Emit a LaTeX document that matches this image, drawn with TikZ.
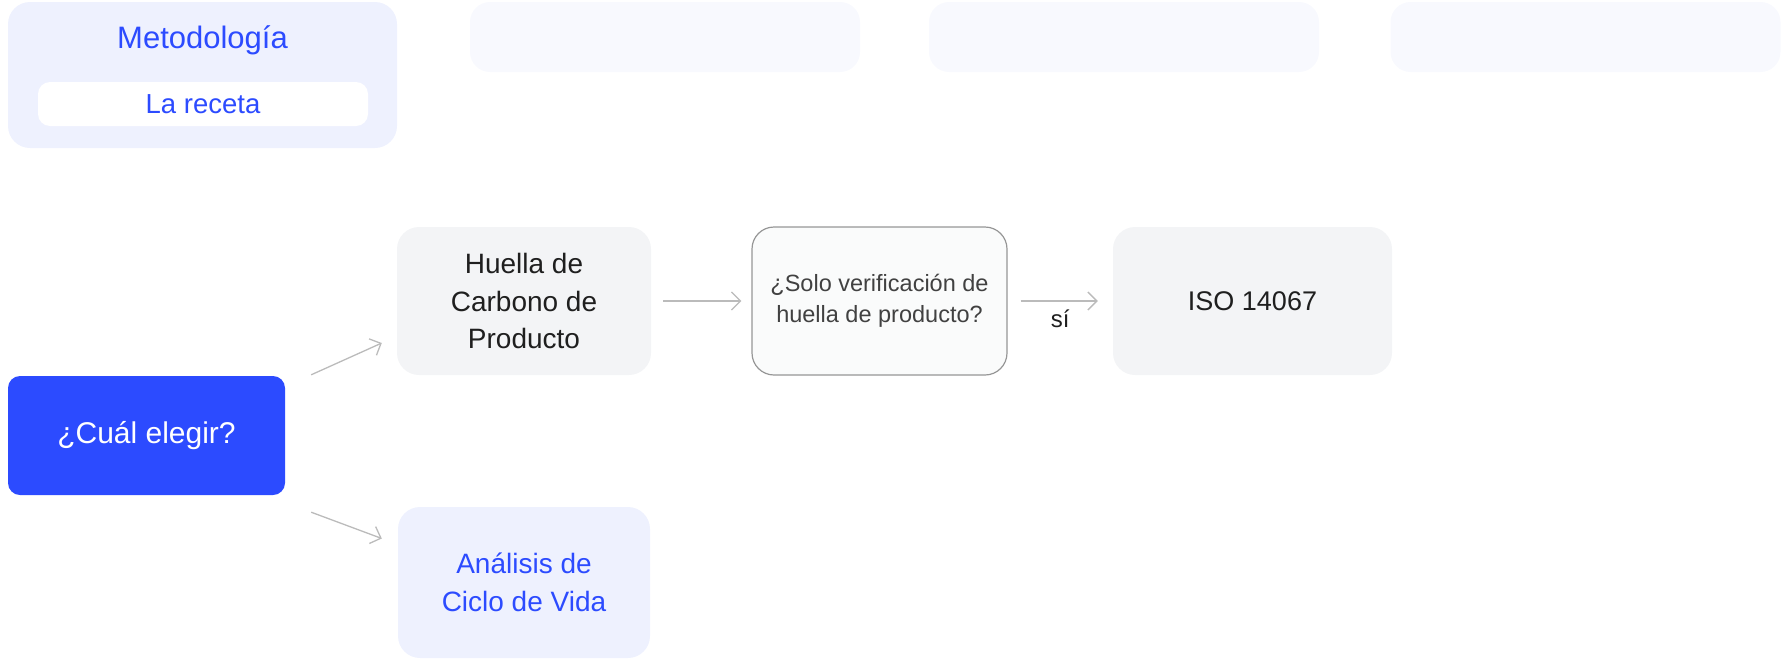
\documentclass[tikz,border=0pt]{standalone}
\usepackage{fontspec}
\setmainfont{Liberation Sans}
\usetikzlibrary{arrows.meta,calc}
\definecolor{azul}{RGB}{44,75,255}
\definecolor{lila}{RGB}{238,241,254}
\definecolor{vacio}{RGB}{248,249,254}
\definecolor{gris}{RGB}{243,244,246}
\definecolor{texto}{RGB}{31,31,31}
\definecolor{linea}{RGB}{187,187,187}

\begin{document}
\begin{tikzpicture}[x=1pt, y=-1pt,
  caja/.style={rounded corners=22pt, inner sep=0pt, align=center, text=texto},
  flecha/.style={draw=linea, line width=1.3pt, -{Straight Barb[length=9pt,width=18pt]}}]
\useasboundingbox (0,0) rectangle (1787,659);
\node[caja, fill=lila, minimum width=389, minimum height=146] (meto) at (202.5,75) {};
\node[text=azul, font=\fontsize{31}{36}\selectfont] (metotit) at (202.5,40) {Metodología};
\node[caja, rounded corners=12pt, fill=white, minimum width=330, minimum height=44,
  text=azul, font=\fontsize{27.5}{32}\selectfont] (receta) at (203,104) {La receta};
\foreach \x/\n in {665/a, 1124/b, 1585.5/c}
  \node[caja, rounded corners=20pt, fill=vacio, minimum width=390, minimum height=70] (vacio\n) at (\x,37) {};

\node[caja, rounded corners=12pt, fill=azul, text=white, minimum width=277, minimum height=119,
  font=\fontsize{30}{36}\selectfont] (elegir) at (146.5,435.5) {¿Cuál elegir?};
\node[caja, fill=gris, minimum width=254, minimum height=148,
  font=\fontsize{28}{37.6}\selectfont] (huella) at (524,301) {Huella de\\Carbono de\\Producto};
\node[caja, fill=lila, text=azul, minimum width=252, minimum height=151,
  font=\fontsize{28}{37.6}\selectfont] (acv) at (524,582.5) {Análisis de\\Ciclo de Vida};
\node[caja, fill=white!60!gris, draw=linea!80!black, line width=1.2pt, minimum width=255, minimum height=148,
  text=texto!85, font=\fontsize{23.5}{31}\selectfont] (pregunta) at (879.5,301) {¿Solo verificación de\\huella de producto?};
\node[caja, fill=gris, minimum width=279, minimum height=148,
  font=\fontsize{27}{32}\selectfont] (iso) at (1252.5,301) {ISO 14067};

\draw[flecha] ($(elegir.north east)+(26,-1)$) -- ($(huella.west)+(-15,42)$);
\draw[flecha] ($(elegir.south east)+(26,17)$) -- ($(acv.west)+(-16,-44)$);
\draw[flecha, shorten <=12pt, shorten >=10pt] (huella) -- (pregunta);
\draw[flecha, shorten <=13pt, shorten >=15pt] (pregunta) -- node[below=5pt, text=texto, font=\fontsize{24}{28}\selectfont] (si) {sí} (iso);
\end{tikzpicture}
\end{document}
